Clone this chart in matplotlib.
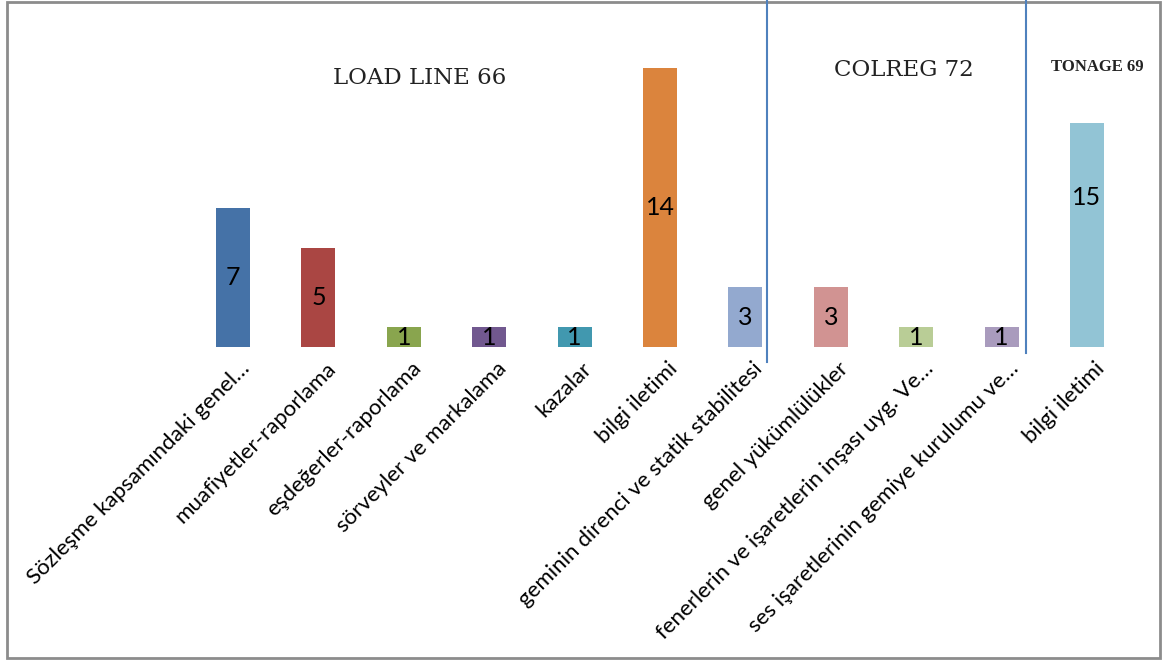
import matplotlib
matplotlib.use("Agg")
import matplotlib.pyplot as plt
import matplotlib.transforms as mtrans
import numpy as np

# Veriler
kategoriler = ['Sözleşme kapsamındaki genel…', 'muafiyetler-raporlama',
               'eşdeğerler-raporlama', 'sörveyler ve markalama', 'kazalar',
               'bilgi iletimi', 'geminin direnci ve statik stabilitesi',
               'genel yükümlülükler', 'fenerlerin ve işaretlerin inşası uyg. Ve…',
               'ses işaretlerinin gemiye kurulumu ve…', 'bilgi iletimi']
degerler = [7, 5, 1, 1, 1, 14, 3, 3, 1, 1, 15]
renkler = ['#4572A7', '#AA4643', '#89A54E', '#71588F', '#4198AF', '#DB843D',
           '#93A9CF', '#D19392', '#B9CD96', '#A99BBD', '#92C4D5']
bolumler = ['LOAD LINE 66', 'COLREG 72', 'TONAGE 69']

W, H = 1164, 660
fig = plt.figure(figsize=(W / 100, H / 100), dpi=100)

# eksen yerleşimi (piksel)
x0, dx = 233, 85.4
taban = 347
L = x0 - 0.5 * dx
R = x0 + 10.5 * dx
ax = fig.add_axes([L / W, (H - taban) / H, (R - L) / W, taban / H])
ax2 = fig.add_axes(ax.get_position(), sharex=ax)
ax.set_zorder(ax2.get_zorder() + 1)
ax.patch.set_visible(False)

x = np.arange(len(kategoriler))
ana = slice(0, 10)
ax.bar(x[ana], degerler[ana], width=0.4, color=renkler[ana])
# TONAGE grafiği ayrı ölçekte
ax2.bar(x[10:], degerler[10:], width=0.4, color=renkler[10:])
ax.set_ylim(0, taban / 19.9)
ax2.set_ylim(0, taban / 224 * 15)
ax.set_xlim(-0.5, 10.5)

for i in range(len(degerler)):
    ax.text(x[i], degerler[i] / 2, str(degerler[i]), ha='center', va='center',
            fontsize=18, family='Lato')

for a in (ax, ax2):
    for s in a.spines.values():
        s.set_visible(False)
    a.set_yticks([])
    a.tick_params(length=0)
ax2.tick_params(labelbottom=False)

ax.set_xticks(x)
ax.set_xticklabels(kategoriler, rotation=45, ha='right', va='top',
                   rotation_mode='anchor', fontsize=16, family='Lato')
ax.tick_params(axis='x', pad=8)
kaydir = mtrans.ScaledTranslation(7 / 100, 0, fig.dpi_scale_trans)
for t in ax.get_xticklabels():
    t.set_transform(t.get_transform() + kaydir)

# bölüm ayırıcı çizgiler
ax.plot([6.25, 6.25], [0 - 0.75, ax.get_ylim()[1]], color='#4F81BD', lw=1.5, clip_on=False)
ax.plot([9.29, 9.29], [0 - 0.3, ax.get_ylim()[1]], color='#4F81BD', lw=1.5, clip_on=False)

# bölüm başlıkları
fig.text(420 / W, 1 - 78 / H, bolumler[0], ha='center', va='center',
         fontsize=16.5, family='DejaVu Serif', color='#222222')
fig.text(904 / W, 1 - 70 / H, bolumler[1], ha='center', va='center',
         fontsize=16.5, family='DejaVu Serif', color='#222222')
fig.text(1097 / W, 1 - 67 / H, bolumler[2], ha='center', va='center',
         fontsize=12, family='Liberation Serif', fontweight='bold', color='#222222')

# çerçeve
fig.add_artist(plt.Rectangle((7 / W, 2 / H), 1153 / W, 656 / H, transform=fig.transFigure,
                             fill=False, edgecolor='#8C8C8C', lw=2))

fig.savefig('out.png', dpi=100)
